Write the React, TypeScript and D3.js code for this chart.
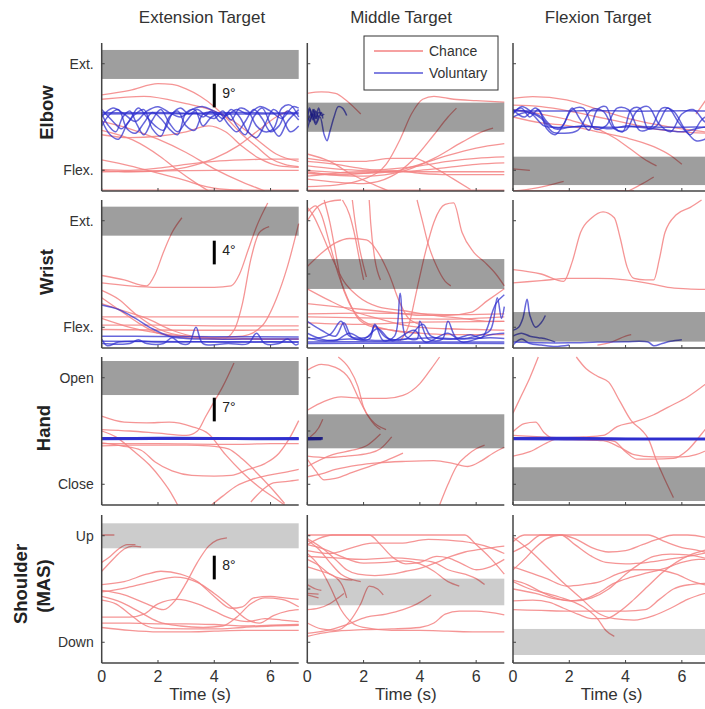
import React from 'react';
import * as d3 from 'd3';

type Pt = [number, number];

// ---- layout of the figure (px) ----
const colLeft = [101.7, 307.3, 513];
const rowTop = [43, 200, 357, 515];
const panelW = 197;
const panelH = 148;

// ---- labels ----
const colTitles = ['Extension Target', 'Middle Target', 'Flexion Target'];
const colTitleX = [202, 401, 598];
const rowNames = ['Elbow', 'Wrist', 'Hand', 'Shoulder'];
const rowTickLabels = [
  ['Flex.', 'Ext.'],
  ['Flex.', 'Ext.'],
  ['Close', 'Open'],
  ['Down', 'Up'],
];
const rowTickValues = [14, 86];
const scaleBarLabels = ['9°', '4°', '7°', '8°'];
const scaleBarRange = [56.5, 72.5];
const timeTicks = [0, 2, 4, 6];

// target bands per row, [low, high] for ext / middle / flex target
const elbowBands = [[75.7, 95.3], [40, 59.7], [4, 23.2]];
const wristBands = [[75.9, 95.5], [39.9, 60.1], [4.3, 24.3]];
const handBands = [[74.3, 97.3], [38.3, 61.3], [2.7, 25.5]];
const shoulderBands = [[77.5, 94.4], [39, 57], [5.4, 23]];

// ---- traces: [time (s), position (0 = bottom, 100 = top)] ----
const elbowExtChance: Pt[][] = [
  [[0, 65], [1, 68], [2, 72.5], [2.5, 72], [3, 69], [3.5, 64], [4, 57], [4.5, 48], [5, 38], [5.5, 30], [6, 22], [6.5, 18], [7, 16.5]],
  [[0, 62], [1.5, 64], [3, 59], [4, 54], [4.7, 47], [5.5, 35], [6.2, 25], [7, 20]],
  [[0, 14], [1, 13], [2, 13.5], [3, 16], [4, 22], [4.8, 30], [5.5, 40], [6.2, 50], [6.6, 54]],
  [[0, 41], [1.1, 34.5], [2.1, 23], [2.7, 14], [3.3, 6], [3.8, 0]],
  [[0, 47], [1, 42], [2, 35], [3, 26], [4, 15], [5, 6], [5.8, 0]],
  [[0, 13], [2, 13.5], [4, 14], [7, 14]],
  [[0, 14.5], [1, 14], [2, 15.5], [3, 18], [4, 20], [5, 21], [6, 21.5], [7, 21.5]],
  [[0, 21], [1, 17], [2, 12], [3, 7], [3.5, 4], [4, 2], [5, 0.5]],
  [[0, 0.6], [7, 0.6]],
  [[0, 38], [1, 36], [2, 37], [3, 40], [3.8, 44], [4.4, 40], [5, 30], [5.6, 22], [6.3, 17], [7, 16]],
];
const elbowExtVoluntary: Pt[][] = [
  [[0, 53], [1, 52.8], [2, 53], [3, 52.6], [4, 52.8], [5, 53], [6, 52.7], [7, 53]],
  [[0, 52], [2, 52.3], [4, 52], [7, 52.2]],
  [[0, 52], [0.25, 44], [0.5, 40], [0.75, 50], [1, 54], [1.25, 45], [1.5, 38], [1.8, 48], [2.1, 55], [2.4, 46], [2.7, 40], [3, 47], [3.3, 53], [3.6, 50], [3.9, 54], [4.2, 47], [4.5, 53], [4.8, 44], [5.1, 38], [5.4, 50], [5.7, 56], [6, 45], [6.3, 37], [6.6, 47], [7, 55]],
  [[0, 48], [0.3, 38], [0.6, 35], [0.9, 45], [1.2, 52], [1.5, 55], [1.8, 42], [2.1, 37], [2.4, 50], [2.7, 54], [3, 44], [3.3, 41], [3.6, 52], [4, 53], [4.3, 49], [4.6, 55], [4.9, 50], [5.2, 40], [5.5, 36], [5.8, 45], [6.1, 55], [6.4, 50], [6.7, 40], [7, 44]],
  [[0, 55], [0.4, 47], [0.7, 42], [1, 48], [1.3, 56], [1.6, 50], [1.9, 44], [2.2, 41], [2.5, 52], [2.8, 56], [3.1, 52], [3.4, 55], [3.7, 51], [4, 49], [4.3, 54], [4.6, 48], [4.9, 56], [5.2, 54], [5.5, 44], [5.8, 40], [6.1, 42], [6.4, 56], [6.7, 58], [7, 50]],
  [[0, 44], [0.3, 52], [0.6, 55], [0.9, 42], [1.2, 39], [1.5, 46], [1.8, 53], [2.1, 49], [2.4, 42], [2.7, 38], [3, 53], [3.3, 55], [3.6, 44], [3.9, 50], [4.2, 52], [4.5, 45], [4.8, 40], [5.1, 47], [5.4, 55], [5.7, 49], [6, 40], [6.3, 44], [6.6, 54], [7, 48]],
  [[0, 50], [0.4, 56], [0.8, 52], [1.2, 47], [1.6, 54], [2, 57], [2.4, 53], [2.8, 50], [3.2, 55], [3.6, 57], [4, 54], [4.4, 51], [4.8, 55], [5.2, 52], [5.6, 57], [6, 54], [6.4, 49], [6.8, 57], [7, 56]],
];

const elbowMidChance: Pt[][] = [
  [[0, 66], [0.5, 67], [1, 66], [1.4, 61], [1.9, 52]],
  [[0, 3], [1, 4], [2, 8], [2.8, 18], [3.3, 35], [3.7, 52], [4.1, 62], [4.5, 64], [5.2, 62], [6, 61], [7, 60]],
  [[0, 8], [1, 6], [2, 5], [3, 10], [3.8, 22], [4.5, 38], [5, 50], [5.3, 56]],
  [[0, 12], [2, 10], [3.5, 14], [4.5, 22], [5.5, 33], [6.2, 40], [6.6, 42.5]],
  [[0, 14], [2, 12], [3, 13], [4, 18], [5, 24], [6, 29], [7, 32]],
  [[0, 17], [1, 15], [2, 14], [3, 15], [4, 17], [5, 20], [6, 22], [7, 23]],
  [[0, 20], [1, 18], [2, 15], [3, 13], [4, 14], [5, 16], [6, 18], [7, 19]],
  [[0, 10], [2, 13], [4, 13], [7, 13]],
  [[0, 13], [1, 11], [2, 12], [3, 14], [4, 12], [5, 11], [7, 11]],
  [[0, 25], [0.8, 20], [1.6, 11], [2.4, 4], [2.9, 0]],
  [[0, 22], [1, 20], [2, 20], [3, 22], [3.8, 22], [4.5, 16], [5.2, 8], [5.8, 1]],
  [[0, 0.5], [7, 0.5]],
];
const elbowMidVoluntary: Pt[][] = [
  [[0, 50], [0.1, 55], [0.2, 48], [0.3, 54], [0.4, 50], [0.5, 53], [0.55, 49]],
  [[0, 53], [0.1, 47], [0.2, 55], [0.3, 49], [0.4, 56], [0.5, 51], [0.6, 52]],
  [[0, 46], [0.15, 52], [0.3, 45], [0.45, 50], [0.6, 38], [0.7, 34], [0.8, 40], [0.95, 50], [1.1, 57], [1.25, 56], [1.4, 51]],
  [[0, 52], [0.08, 56], [0.16, 50], [0.24, 55], [0.32, 49], [0.4, 53], [0.5, 52]],
  [[0, 42], [0.1, 48], [0.2, 52], [0.3, 46], [0.4, 51]],
];

const elbowFlexChance: Pt[][] = [
  [[0, 62.6], [0.7, 63.7], [1.9, 61.5], [3.1, 54.7], [4.3, 48], [5.5, 43.5], [6.8, 40], [7, 39.5]],
  [[0, 55], [1, 52], [2, 48], [3, 42], [3.6, 36], [4.2, 28], [4.8, 20], [5.1, 17]],
  [[0, 50], [1, 46], [2, 44], [3, 40], [4, 36], [5, 30], [5.6, 24], [6, 18]],
  [[0, 15], [0.6, 14]],
  [[0, 0], [0.8, 2], [1.5, 5], [1.8, 6.5]],
  [[4.1, 0], [4.6, 5], [5, 9.5]],
  [[0, 0.3], [4.3, 0.3]],
  [[6.5, 52], [6.8, 60], [7, 66]],
  [[0, 58], [1, 57], [2, 54], [3, 50], [4, 46], [5, 42], [6, 40], [7, 39]],
];
const elbowFlexVoluntary: Pt[][] = [
  [[0, 54], [1, 54], [2, 54], [3, 54.3], [4, 54], [5, 54], [6, 54.2], [7, 54]],
  [[0, 53], [0.3, 56], [0.6, 50], [0.9, 55], [1.2, 42], [1.5, 38], [1.8, 45], [2.1, 56], [2.4, 48], [2.7, 41], [3.0, 55], [3.3, 57], [3.6, 43], [3.9, 40], [4.2, 55], [4.5, 56], [4.8, 42], [5.1, 44], [5.5, 56], [5.9, 46], [6.3, 38], [6.7, 48], [7, 52]],
  [[0, 55], [0.4, 50], [0.8, 56], [1.2, 47], [1.5, 42], [2, 43], [2.5, 44], [3, 43], [3.5, 42], [4, 44], [4.5, 43], [5, 42], [5.5, 41], [6, 40], [6.5, 42], [7, 44]],
  [[0, 52], [0.3, 57], [0.7, 53], [1, 50], [1.3, 44], [1.7, 43], [2.1, 55], [2.5, 56], [2.9, 42], [3.3, 44], [3.7, 56], [4.1, 55], [4.5, 41], [4.9, 43], [5.3, 56], [5.7, 54], [6.1, 42], [6.5, 34], [6.9, 36], [7, 40]],
  [[0, 50], [0.5, 53], [1, 49], [1.4, 40], [1.8, 39], [2.3, 41], [2.8, 55], [3.2, 54], [3.6, 42], [4, 41], [4.4, 54], [4.8, 57], [5.2, 45], [5.6, 40], [6, 52], [6.4, 55], [6.8, 47], [7, 45]],
  [[0, 54.5], [0.6, 53], [1.1, 44], [1.5, 43], [2.5, 43.5], [3.5, 43], [4.5, 43.5], [5.5, 43], [6.5, 43.2], [7, 43]],
];

const wristExtChance: Pt[][] = [
  [[0, 49], [0.8, 46], [1.6, 42], [1.9, 50], [2.2, 65], [2.5, 78], [2.85, 88]],
  [[0, 44], [1, 42], [2, 41], [3, 41], [4, 41], [4.6, 42], [4.9, 50], [5.2, 66], [5.5, 82], [5.9, 98]],
  [[0, 30], [0.8, 25], [1.6, 20], [2.5, 12], [3.5, 7], [4.3, 6], [4.7, 12], [5, 30], [5.3, 60], [5.6, 78], [5.95, 82]],
  [[0, 20], [1, 14], [2, 10], [3, 8], [4, 7], [5, 8], [5.7, 15], [6.2, 33], [6.6, 55], [7, 84]],
  [[0, 21], [7, 21]],
  [[0, 15.5], [2, 15.5], [4, 15], [7, 15]],
  [[0, 12.5], [3, 12], [5, 12], [7, 12.2]],
  [[0, 39], [0.6, 33], [1.2, 23], [2, 13], [3, 8], [4, 7], [5, 6.5], [6, 6], [7, 6]],
  [[0, 34], [0.6, 26], [1.3, 17], [2, 10], [3, 7], [4, 6], [5, 6], [7, 6]],
];
const wristExtVoluntary: Pt[][] = [
  [[0, 29], [0.6, 26], [1.2, 20], [1.8, 13], [2.4, 8], [3, 6.5], [4, 6], [5, 6], [6, 6], [7, 6]],
  [[0, 8], [2, 7.8], [4, 7.6], [7, 7.5]],
  [[0, 4.5], [3, 4.3], [7, 4]],
  [[0, 3], [1, 3], [1.3, 5.5], [1.6, 3], [2.2, 3], [2.5, 7], [2.8, 3], [3.1, 3], [3.35, 14], [3.6, 3], [4.5, 3], [5.2, 3], [5.5, 10], [5.8, 3], [6.3, 3], [6.6, 6], [6.9, 2], [7, 3]],
  [[0, 6], [0.2, 1.5], [0.6, 4], [1.5, 4.5], [2, 4], [3, 4.3], [4, 4], [5, 4], [6, 4.2], [7, 4]],
];

const wristMidChance: Pt[][] = [
  [[0, 86], [0.4, 96], [0.8, 99], [1.2, 100]],
  [[0, 92], [0.3, 96], [0.5, 90], [0.8, 70], [1.1, 50], [1.4, 35], [1.8, 20], [2.2, 15], [3, 12], [4, 10]],
  [[0, 95], [0.2, 90], [0.5, 78], [0.9, 60], [1.3, 45], [1.8, 35], [2.5, 28], [3.5, 25], [4.5, 22], [5.5, 20], [6.5, 18], [7, 18]],
  [[1.25, 100], [1.5, 90], [1.7, 75], [1.85, 60], [2, 46]],
  [[1.6, 100], [1.7, 85], [1.85, 68], [2.1, 48]],
  [[2.2, 100], [2.25, 85], [2.4, 60], [2.6, 46]],
  [[3.3, 5], [3.6, 15], [3.9, 40], [4.2, 65], [4.5, 85], [4.9, 97], [5.2, 98], [5.5, 78], [5.9, 65], [6.3, 58], [6.7, 50], [7, 42]],
  [[3.9, 100], [4.1, 85], [4.3, 70], [4.6, 55], [4.9, 45], [5.1, 42]],
  [[0, 55], [0.5, 64], [1, 71], [1.5, 74], [2.1, 73], [2.5, 65], [2.9, 50], [3.3, 30], [3.6, 20], [4, 16]],
  [[0, 40], [0.8, 32], [1.6, 25], [2.5, 20], [3.3, 16], [4, 14], [5, 13], [6, 12.5], [7, 12]],
  [[0, 23], [2, 23.5], [4, 23], [5.5, 22.5], [7, 23]],
  [[0, 21], [3, 20], [5, 19.5], [7, 21]],
  [[0, 17], [2, 16], [4, 17.5], [7, 18]],
  [[0, 30], [1, 28], [2, 26], [3, 24], [4, 22], [5, 22], [5.8, 24], [6.4, 32], [7, 40]],
  [[0.6, 100], [0.8, 85], [1, 65], [1.2, 45], [1.5, 30], [2, 18], [3, 12], [4, 10], [5, 9], [7, 9]],
];
const wristMidVoluntary: Pt[][] = [
  [[0, 4], [2, 4.2], [4, 4], [7, 4]],
  [[0, 3], [3, 3.2], [7, 3]],
  [[0, 18], [0.5, 12], [1, 8], [1.3, 17], [1.6, 7], [2.2, 6], [2.4, 16], [2.7, 5], [3.1, 8], [3.3, 37], [3.5, 8], [3.9, 6], [4, 18], [4.3, 6], [4.8, 6], [5, 18], [5.3, 7], [6, 8], [6.5, 12], [6.75, 34], [6.9, 20], [7, 28]],
  [[0, 10], [0.5, 6], [1, 5], [1.5, 10], [2, 6], [2.5, 13], [3, 5], [3.8, 12], [4.2, 4], [5, 10], [5.5, 4], [6, 6], [6.5, 9], [7, 10]],
  [[0, 6], [0.8, 9], [1.2, 18], [1.5, 8], [2.2, 8], [2.4, 15], [2.8, 7], [3.5, 6], [4.1, 16], [4.4, 8], [5.2, 6], [5.8, 9], [6.2, 7], [6.7, 30], [7, 36]],
  [[0, 7], [0.5, 5], [1.5, 6], [2.5, 5], [3.5, 6], [4.5, 7], [5.5, 6], [6.5, 7], [7, 6.5]],
];

const wristFlexChance: Pt[][] = [
  [[0, 53], [1, 50], [1.8, 45], [2.1, 58], [2.4, 78], [2.8, 88], [3.2, 92], [3.6, 88], [3.8, 75], [4.05, 55], [4.3, 47], [4.7, 46], [5, 46], [5.2, 60], [5.4, 78], [5.8, 90], [6.3, 95], [6.7, 100]],
  [[0, 44], [1, 45.5], [2, 47], [3, 47], [4, 46], [5, 43], [5.5, 41], [6.2, 40], [7, 39.5]],
  [[3, 2], [3.5, 4], [4, 8], [4.2, 9]],
];
const wristFlexVoluntary: Pt[][] = [
  [[0, 12], [0.2, 14], [0.35, 20], [0.5, 33], [0.6, 22], [0.8, 14], [1, 17], [1.15, 22]],
  [[0, 8], [0.3, 10], [0.6, 8], [0.9, 7], [1.2, 6], [1.5, 4]],
  [[0, 4], [1, 3.5], [2, 3.5], [3, 4], [4, 4.3], [4.8, 4], [5, 1.5], [5.3, 3], [5.6, 4.5], [6, 5.5]],
  [[0, 2], [0.3, 6], [0.6, 3], [1, 2], [1.5, 1], [2, 2]],
];

const handExtChance: Pt[][] = [
  [[0, 51], [1, 50], [2, 48.5], [3, 47], [3.4, 50], [3.7, 60], [4, 70], [4.3, 80], [4.7, 96]],
  [[0, 60], [0.8, 56], [1.6, 55.5], [2.4, 56], [3.2, 53], [3.8, 48], [4.4, 34], [5, 22], [5.6, 12], [6.2, 4], [6.5, 0]],
  [[0, 50], [0.5, 46], [1.1, 37], [1.7, 27], [2.1, 18], [2.4, 10], [2.7, 0]],
  [[0, 42], [0.7, 40], [1.4, 37], [1.9, 29], [2.5, 23], [3.2, 20], [4, 19.5], [4.6, 20], [5.2, 24], [5.8, 28], [6.3, 35], [6.7, 46], [7, 57]],
  [[0, 40], [1, 40.5], [2, 40.5], [3, 40.5], [3.8, 40], [4.5, 38], [5, 31], [5.5, 22], [6, 12], [6.5, 1]],
  [[0, 41.5], [2, 41.5], [4, 41], [5, 41], [6, 41.5], [7, 41.5]],
  [[3.9, 0], [4.3, 6], [4.8, 13], [5.3, 17], [5.9, 20], [6.5, 22], [7, 24]],
  [[5.3, 2], [5.7, 10], [6.1, 15], [6.6, 16], [7, 17]],
];
const handExtVoluntary: Pt[][] = [
  [[0, 45], [2, 45.2], [4, 45], [7, 45]],
  [[0, 44.6], [3, 44.8], [7, 44.6]],
];

const handMidChance: Pt[][] = [
  [[0, 91], [0.5, 95], [1, 93], [1.5, 85], [1.8, 73], [2.1, 62], [2.4, 54], [2.6, 51]],
  [[1.1, 100], [1.5, 92], [1.8, 80], [2, 66], [2.3, 57], [2.8, 51]],
  [[0, 64], [0.6, 70], [1.2, 73], [2, 72], [2.8, 72], [3.4, 74], [4, 82], [4.4, 92], [4.7, 100]],
  [[0, 26], [0.9, 34], [1.6, 37], [2.1, 40], [2.6, 48]],
  [[0, 33], [0.7, 32], [1.4, 33], [2.2, 35], [2.6, 38], [3, 46]],
  [[0, 19], [0.5, 21], [1, 24], [1.8, 27], [2.5, 28.5], [3.5, 29.5], [4.5, 30], [5.2, 28], [5.7, 26], [6.2, 30], [6.6, 35], [7, 39]],
  [[0, 31], [0.3, 23], [0.6, 17], [1, 18], [1.6, 22], [2.2, 26], [2.8, 30], [3.4, 35]],
  [[4.7, 0], [5, 14], [5.3, 26], [5.7, 34], [6, 38], [6.3, 40.5]],
  [[0.1, 46], [0.4, 52], [0.55, 58]],
];
const handMidVoluntary: Pt[][] = [
  [[0, 45], [0.55, 45]],
  [[0, 44.5], [0.5, 44.6]],
];

const handFlexChance: Pt[][] = [
  [[0, 62], [0.3, 74], [0.6, 86], [0.9, 100]],
  [[2.25, 100], [2.6, 92], [3, 87], [3.4, 83], [3.8, 70], [4.2, 57], [4.6, 50], [4.8, 45], [5.1, 30], [5.4, 17], [5.7, 5]],
  [[0, 49.5], [0.4, 55], [0.8, 56], [1.1, 49], [1.5, 44.5], [2.5, 44], [3.2, 43.5], [3.8, 39], [4.3, 34], [5, 32.5], [6, 32.5], [6.5, 34], [7, 38]],
  [[0, 33], [0.6, 36], [1.2, 42], [1.6, 45], [2.5, 46], [3.2, 47], [3.7, 53], [4.3, 56], [5, 61], [5.5, 66], [6.2, 73], [7, 84]],
  [[0, 47], [1, 46], [2, 45], [3, 44.5], [3.6, 43], [4, 36], [4.4, 31], [5, 31], [5.7, 31.5], [6.2, 37], [6.7, 48], [7, 55]],
];
const handFlexVoluntary: Pt[][] = [
  [[0, 45], [2, 45.2], [4, 44.8], [7, 44.8]],
  [[0, 44.6], [3, 44.5], [7, 44.4]],
];

const shoulderExtChance: Pt[][] = [
  [[0, 86.5], [0.45, 86.5]],
  [[0, 62], [0.2, 66], [0.5, 72], [0.8, 77], [1.1, 79], [1.4, 78.5]],
  [[0, 68], [0.3, 72], [0.6, 77], [0.9, 80], [1.2, 80]],
  [[0, 49], [0.8, 46], [1.6, 40], [2.2, 36], [2.6, 42], [3, 54], [3.4, 68], [3.8, 79], [4.1, 83], [4.45, 84.5]],
  [[0, 53], [0.8, 55], [1.6, 60], [2.1, 62], [2.8, 60], [3.4, 55], [4, 45], [4.6, 37], [5, 38], [5.4, 44], [6, 45], [6.5, 44], [7, 43]],
  [[0, 48], [0.9, 51], [1.8, 55], [2.6, 58], [3.4, 54.5], [4, 47], [4.6, 38], [5.2, 29], [5.6, 27], [6.1, 32], [6.6, 35], [7, 36]],
  [[0, 42.5], [0.5, 40], [1, 33], [1.4, 27], [1.9, 23.5], [3, 23], [4, 23], [5, 24], [6, 25], [7, 25.5]],
  [[0, 31], [1, 31], [1.5, 33], [2, 40], [2.7, 43], [3.4, 40], [4, 35], [4.6, 30], [5.2, 28], [5.8, 30], [6.4, 29], [7, 28]],
  [[0, 27], [1, 27], [2, 26.5], [3, 26.5], [4, 26], [5, 25], [6, 25.5], [7, 26]],
  [[0, 24], [1, 22], [2, 21], [3, 21], [4, 21.5], [5, 22], [6, 22], [7, 22]],
  [[0, 45], [0.7, 41], [1.3, 35], [2, 28], [2.8, 25], [3.6, 24], [4.3, 25], [4.8, 31], [5.3, 40], [5.8, 44], [6.4, 43], [7, 38]],
];

const shoulderMidChance: Pt[][] = [
  [[0, 86.5], [1, 86.5], [2, 86.5], [3, 86.5], [4, 86.5], [5, 86.5], [5.6, 86.5], [6, 80], [6.5, 71], [7, 60]],
  [[0, 80], [0.4, 84], [0.9, 86.5], [1.6, 86.5], [2.2, 86.5], [2.6, 80], [3, 72], [3.5, 67], [4, 68], [4.6, 72], [5, 71], [5.5, 67], [6, 63], [6.5, 65], [7, 70]],
  [[0, 76], [0.8, 74], [1.6, 78], [2.3, 81], [3.3, 81], [4.3, 83.5], [5, 83], [5.9, 81], [6.5, 78], [7, 74]],
  [[0, 80], [0.6, 77], [1.2, 72], [2, 67.5], [2.8, 68], [3.4, 69], [4, 67], [4.5, 62], [5, 55], [5.4, 52]],
  [[0, 83], [0.4, 77], [0.8, 68], [1.2, 60], [1.5, 57], [1.9, 55]],
  [[0, 70], [0.4, 66], [0.8, 60], [1.2, 57], [1.6, 56]],
  [[0, 65], [0.5, 62], [1, 58], [1.3, 50], [1.4, 44]],
  [[0, 53], [0.3, 50], [0.5, 49]],
  [[0, 47], [0.4, 46.5]],
  [[0, 46], [0.4, 44]],
  [[0, 36], [0.4, 37], [0.8, 40], [1.1, 44], [1.3, 47]],
  [[0, 27], [0.5, 23], [1, 22], [1.5, 28], [1.9, 40], [2.2, 52], [2.5, 50], [2.7, 46]],
  [[0, 20], [0.7, 22], [1.4, 26], [2.1, 31], [2.8, 33], [3.4, 36], [3.9, 40], [4.4, 46]],
  [[0, 18], [0.8, 21], [2, 22.5], [3, 23], [4, 24], [4.5, 27], [4.9, 33], [5.4, 35], [6, 35], [7, 32.5]],
  [[0, 74], [0.4, 66], [0.8, 52], [1.2, 36], [1.6, 27], [2, 24], [3, 22], [4, 22], [5, 21.5], [6, 21], [7, 21]],
  [[0, 84], [0.5, 78], [1, 70], [1.4, 63], [1.8, 60], [2.4, 59], [3, 60], [3.5, 62], [4, 64], [4.6, 68], [5.1, 72], [5.6, 75], [6.2, 77], [7, 79]],
  [[0, 72], [1, 71], [2, 70], [3, 71], [3.8, 70], [4.5, 68], [5, 63], [5.6, 60], [6, 57], [6.3, 53]],
];

const shoulderFlexChance: Pt[][] = [
  [[0, 82], [0.4, 86.5], [1, 86.5], [1.7, 86.5], [2.2, 80], [2.8, 72], [3.3, 68], [4, 67], [4.8, 68], [5.5, 70], [6.2, 72], [7, 75]],
  [[0, 75], [0.5, 80], [1, 86.5], [2, 86.5], [2.8, 86.5], [3.5, 86.5], [4.2, 86.5], [4.8, 86.5], [5.4, 82], [6, 78], [6.6, 76], [7, 74]],
  [[0, 63], [0.4, 70], [0.8, 78], [1.2, 84], [1.7, 86.5], [2.2, 84], [2.8, 78], [3.4, 75], [4, 76], [4.6, 80], [5.2, 84], [5.7, 86.5], [6.2, 86.5], [6.8, 85], [7, 84]],
  [[0, 55], [0.6, 50], [1.2, 47], [1.9, 43], [2.5, 38], [3, 30], [3.3, 22], [3.6, 18]],
  [[0, 50], [0.8, 47], [1.6, 43], [2.2, 42], [2.8, 44], [3.4, 50], [4, 60], [4.5, 67], [5, 72], [5.6, 73.5], [6.2, 73], [7, 70]],
  [[0, 42], [0.7, 42.5], [1.3, 41], [1.8, 37], [2.3, 33], [2.8, 30], [3.3, 30], [3.8, 35], [4.3, 43], [4.8, 52], [5.3, 61], [5.8, 68], [6.3, 73], [7, 77]],
  [[0, 36], [1, 35.5], [2, 35], [3, 35], [4, 35], [4.7, 36], [5.2, 43], [5.7, 50], [6.3, 53], [7, 54]],
  [[0, 85], [0.6, 76], [1.2, 65], [1.8, 54], [2.4, 44], [3, 34], [3.6, 30], [4.3, 29], [5, 32], [5.6, 37], [6.2, 43], [7, 48]],
  [[0, 65], [0.6, 61], [1.2, 57], [1.9, 52], [2.5, 53], [3.1, 55], [3.7, 60], [4.3, 63], [5, 63], [5.8, 60], [6.4, 55], [7, 52]],
  [[0, 56], [0.5, 53], [1, 48], [1.5, 44], [2, 42], [2.5, 43], [3, 47], [3.6, 54], [4.2, 58], [4.8, 61], [5.4, 64], [6, 68], [6.6, 70], [7, 70]],
];

const panels = [
  { bands: elbowBands, chance: [elbowExtChance, elbowMidChance, elbowFlexChance], voluntary: [elbowExtVoluntary, elbowMidVoluntary, elbowFlexVoluntary] },
  { bands: wristBands, chance: [wristExtChance, wristMidChance, wristFlexChance], voluntary: [wristExtVoluntary, wristMidVoluntary, wristFlexVoluntary] },
  { bands: handBands, chance: [handExtChance, handMidChance, handFlexChance], voluntary: [handExtVoluntary, handMidVoluntary, handFlexVoluntary] },
  { bands: shoulderBands, chance: [shoulderExtChance, shoulderMidChance, shoulderFlexChance], voluntary: [[], [], []] as Pt[][][] },
];

const chanceColor = 'rgb(243,130,130)';
const voluntaryColor = 'rgb(45,45,205)';
const axisColor = '#444';
const font = 'Liberation Sans, Arial, sans-serif';

const Panel = ({ row, col }: { row: number; col: number }) => {
  const left = colLeft[col];
  const top = rowTop[row];
  const x = d3.scaleLinear().domain([0, 7]).range([left, left + panelW]);
  const y = d3.scaleLinear().domain([0, 100]).range([top + panelH, top]);
  const line = d3
    .line<Pt>()
    .x((d) => x(d[0]))
    .y((d) => y(d[1]))
    .curve(d3.curveMonotoneX);
  const volLine = d3
    .line<Pt>()
    .x((d) => x(d[0]))
    .y((d) => y(d[1]))
    .curve(d3.curveCatmullRom.alpha(0.5));
  const band = panels[row].bands[col];
  const clipId = `clip-${row}-${col}`;
  const yTicks = col === 1 ? [14, 50, 86] : rowTickValues;

  return (
    <g>
      <clipPath id={clipId}>
        <rect x={left} y={top - 2} width={panelW + 2} height={panelH + 2} />
      </clipPath>
      <g clipPath={`url(#${clipId})`}>
        {panels[row].chance[col].map((tr, i) => (
          <path key={'c' + i} d={line(tr) || ''} fill="none" stroke={chanceColor} strokeOpacity={0.85} strokeWidth={1.3} />
        ))}
        {panels[row].voluntary[col].map((tr, i) => (
          <path
            key={'v' + i}
            d={volLine(tr) || ''}
            fill="none"
            stroke={voluntaryColor}
            strokeOpacity={row === 2 ? 0.95 : 0.72}
            strokeWidth={row === 2 ? 2.6 : 1.5}
          />
        ))}
      </g>
      <rect
        x={left}
        y={y(band[1])}
        width={panelW}
        height={y(band[0]) - y(band[1])}
        fill="#000"
        fillOpacity={row === 3 ? 0.2 : 0.38}
      />
      {/* axes */}
      <line x1={left} x2={left} y1={top} y2={top + panelH} stroke={axisColor} strokeWidth={1.5} />
      <line x1={left} x2={left + panelW} y1={top + panelH} y2={top + panelH} stroke={axisColor} strokeWidth={1.5} />
      {timeTicks.map((t) => (
        <line key={'xt' + t} x1={x(t)} x2={x(t)} y1={top + panelH} y2={top + panelH - 3} stroke={axisColor} strokeWidth={1} />
      ))}
      {yTicks.map((v) => (
        <line key={'yt' + v} x1={left} x2={left + 3} y1={y(v)} y2={y(v)} stroke={axisColor} strokeWidth={1} />
      ))}
      {col === 0 &&
        rowTickLabels[row].map((lab, i) => (
          <text key={lab} x={left - 8} y={y(rowTickValues[i])} dy="0.35em" textAnchor="end" fontSize={14} fill="#333" fontFamily={font}>
            {lab}
          </text>
        ))}
      {col === 0 && (
        <g>
          <line x1={x(4)} x2={x(4)} y1={y(scaleBarRange[0])} y2={y(scaleBarRange[1])} stroke="#000" strokeWidth={3} />
          <text x={x(4) + 8} y={y(scaleBarRange[1]) + 14.5} fontSize={14} fill="#222" fontFamily={font}>
            {scaleBarLabels[row]}
          </text>
        </g>
      )}
      {row === 3 &&
        timeTicks.map((t) => (
          <text key={'xl' + t} x={x(t)} y={top + panelH + 18.5} textAnchor="middle" fontSize={16} fill="#333" fontFamily={font}>
            {t}
          </text>
        ))}
      {row === 3 && (
        <text x={x(3.5)} y={700} textAnchor="middle" fontSize={17} fill="#333" fontFamily={font}>
          Time (s)
        </text>
      )}
    </g>
  );
};

const App = () => {
  const rowLabelPos = [
    { x: 53, y: 112.5 },
    { x: 53, y: 272 },
    { x: 50, y: 428 },
  ];
  return (
    <svg width={705} height={709} style={{ position: 'absolute', left: 0, top: 0, background: '#fff' }}>
      <rect width={705} height={709} fill="#fff" />
      {colTitles.map((t, i) => (
        <text key={t} x={colTitleX[i]} y={22.5} textAnchor="middle" fontSize={17} fill="#333" fontFamily={font}>
          {t}
        </text>
      ))}
      {rowLabelPos.map((p, i) => (
        <text
          key={rowNames[i]}
          transform={`translate(${p.x},${p.y}) rotate(-90)`}
          textAnchor="middle"
          fontSize={18.5}
          fontWeight="bold"
          fill="#222"
          fontFamily={font}
        >
          {rowNames[i]}
        </text>
      ))}
      <text transform="translate(26.5,584) rotate(-90)" textAnchor="middle" fontSize={18.5} fontWeight="bold" fill="#222" fontFamily={font}>
        {rowNames[3]}
      </text>
      <text transform="translate(49.5,586) rotate(-90)" textAnchor="middle" fontSize={18.5} fontWeight="bold" fill="#222" fontFamily={font}>
        (MAS)
      </text>
      {[0, 1, 2, 3].map((r) => [0, 1, 2].map((c) => <Panel key={`${r}-${c}`} row={r} col={c} />))}
      {/* legend */}
      <g>
        <rect x={364} y={36} width={134} height={54} fill="#fff" stroke="#333" strokeWidth={1} />
        <line x1={374} x2={423} y1={51} y2={51} stroke={chanceColor} strokeWidth={1.3} />
        <text x={429} y={56} fontSize={14} fill="#333" fontFamily={font}>
          Chance
        </text>
        <line x1={374} x2={423} y1={73} y2={73} stroke={voluntaryColor} strokeOpacity={0.8} strokeWidth={1.5} />
        <text x={429} y={78} fontSize={14} fill="#333" fontFamily={font}>
          Voluntary
        </text>
      </g>
    </svg>
  );
};

export default App;
